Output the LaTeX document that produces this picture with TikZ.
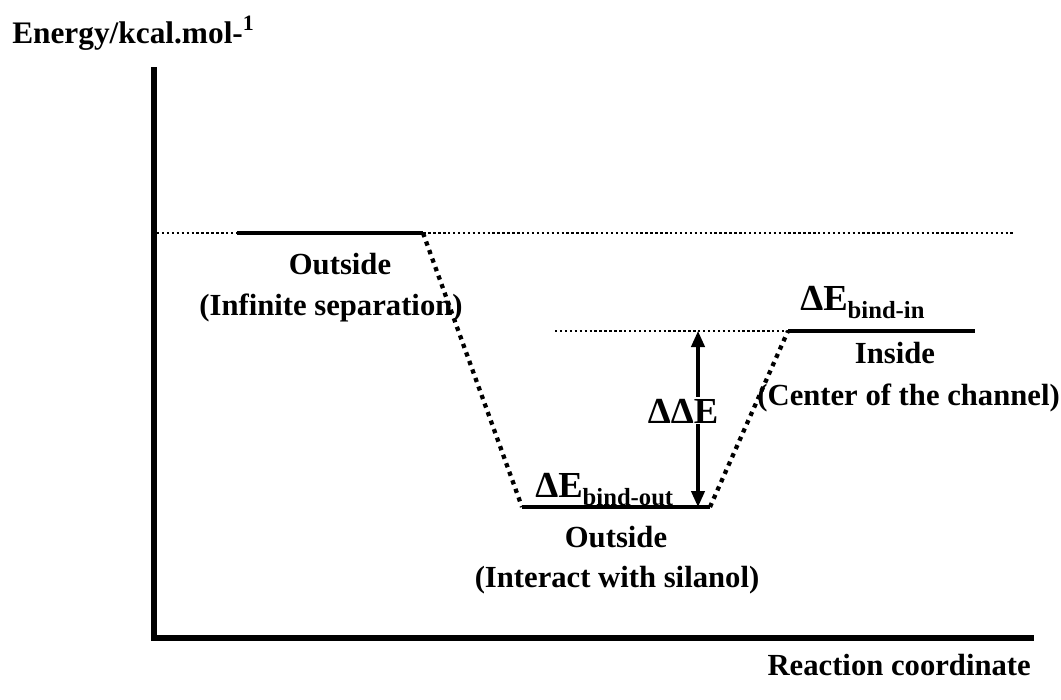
\documentclass[tikz,border=0pt]{standalone}
\usepackage{fontspec}
\setmainfont{Liberation Serif}
\usetikzlibrary{arrows.meta}
\tikzset{>={Triangle[length=12pt,width=10pt]}}
\newcommand{\lblfont}{\fontsize{23}{27}\selectfont\bfseries}
\newcommand{\dEfont}{\fontsize{27.5}{30}\selectfont\bfseries}
\newcommand{\subfont}{\fontsize{18.5}{22}\selectfont\bfseries}
\newcommand{\dEbind}[1]{{\dEfont ΔE}\raisebox{-6pt}{\subfont #1}}

\begin{document}
\begin{tikzpicture}[x=0.75pt,y=-0.75pt,
    lbl/.style={font=\lblfont, inner sep=0pt, anchor=base},
    axisline/.style={line width=3.8pt, line join=miter},
    level/.style={line width=3pt},
    guide/.style={line width=1.8pt, dash pattern=on 1.8pt off 1.9pt},
    slope/.style={line width=3.2pt, dash pattern=on 3.2pt off 3.6pt}]
  \useasboundingbox (0,0) rectangle (1061,700);

  % axes
  \coordinate (ytop) at (154,67);
  \coordinate (orig) at (154,638);
  \coordinate (xend) at (1034,638);
  \draw[axisline] (ytop) -- (orig) -- (xend);
  \node[lbl, anchor=base west, font=\fontsize{23.5}{27}\selectfont\bfseries] (ylab) at (12,43) {Energy/kcal.mol-\textsuperscript{1}};
  \node[lbl, anchor=base east] (xlab) at (1031,675) {Reaction coordinate};

  % energy levels
  \coordinate (g1) at (157,233);  \coordinate (g2) at (1015,233);
  \coordinate (a1) at (237,233);  \coordinate (a2) at (423,233);
  \coordinate (b1) at (522,507);  \coordinate (b2) at (710,507);
  \coordinate (c0) at (555,331);
  \coordinate (c1) at (788,331);  \coordinate (c2) at (975,331);
  \draw[guide] (g1) -- (g2);
  \draw[guide] (c0) -- (c1);
  \draw[level] (a1) -- (a2);
  \draw[level] (b1) -- (b2);
  \draw[level] (c1) -- (c2);
  \draw[slope] (a2) -- (b1);
  \draw[slope] (b2) -- (c1);

  % energy difference
  \coordinate (ddtop) at (698,331);
  \coordinate (ddbot) at (698,507);
  \draw[<->, line width=2.4pt] (ddtop) -- (ddbot);
  \node[font=\dEfont, fill=white, inner sep=1pt, anchor=base] (ddE) at (683,423) {ΔΔE};

  \node[anchor=base west, inner sep=0pt] (dEout) at (535,497) {\dEbind{bind-out}};
  \node[anchor=base west, inner sep=0pt] (dEin) at (800,310) {\dEbind{bind-in}};

  % state labels
  \node[lbl] (out1) at (340,274) {Outside};
  \node[lbl] (sep) at (331,315) {(Infinite separation)};
  \node[lbl] (out2) at (616,547) {Outside};
  \node[lbl] (sil) at (617,587) {(Interact with silanol)};
  \node[lbl] (ins) at (895,363) {Inside};
  \node[lbl, anchor=base east] (chan) at (1060,405) {(Center of the channel)};
\end{tikzpicture}
\end{document}
